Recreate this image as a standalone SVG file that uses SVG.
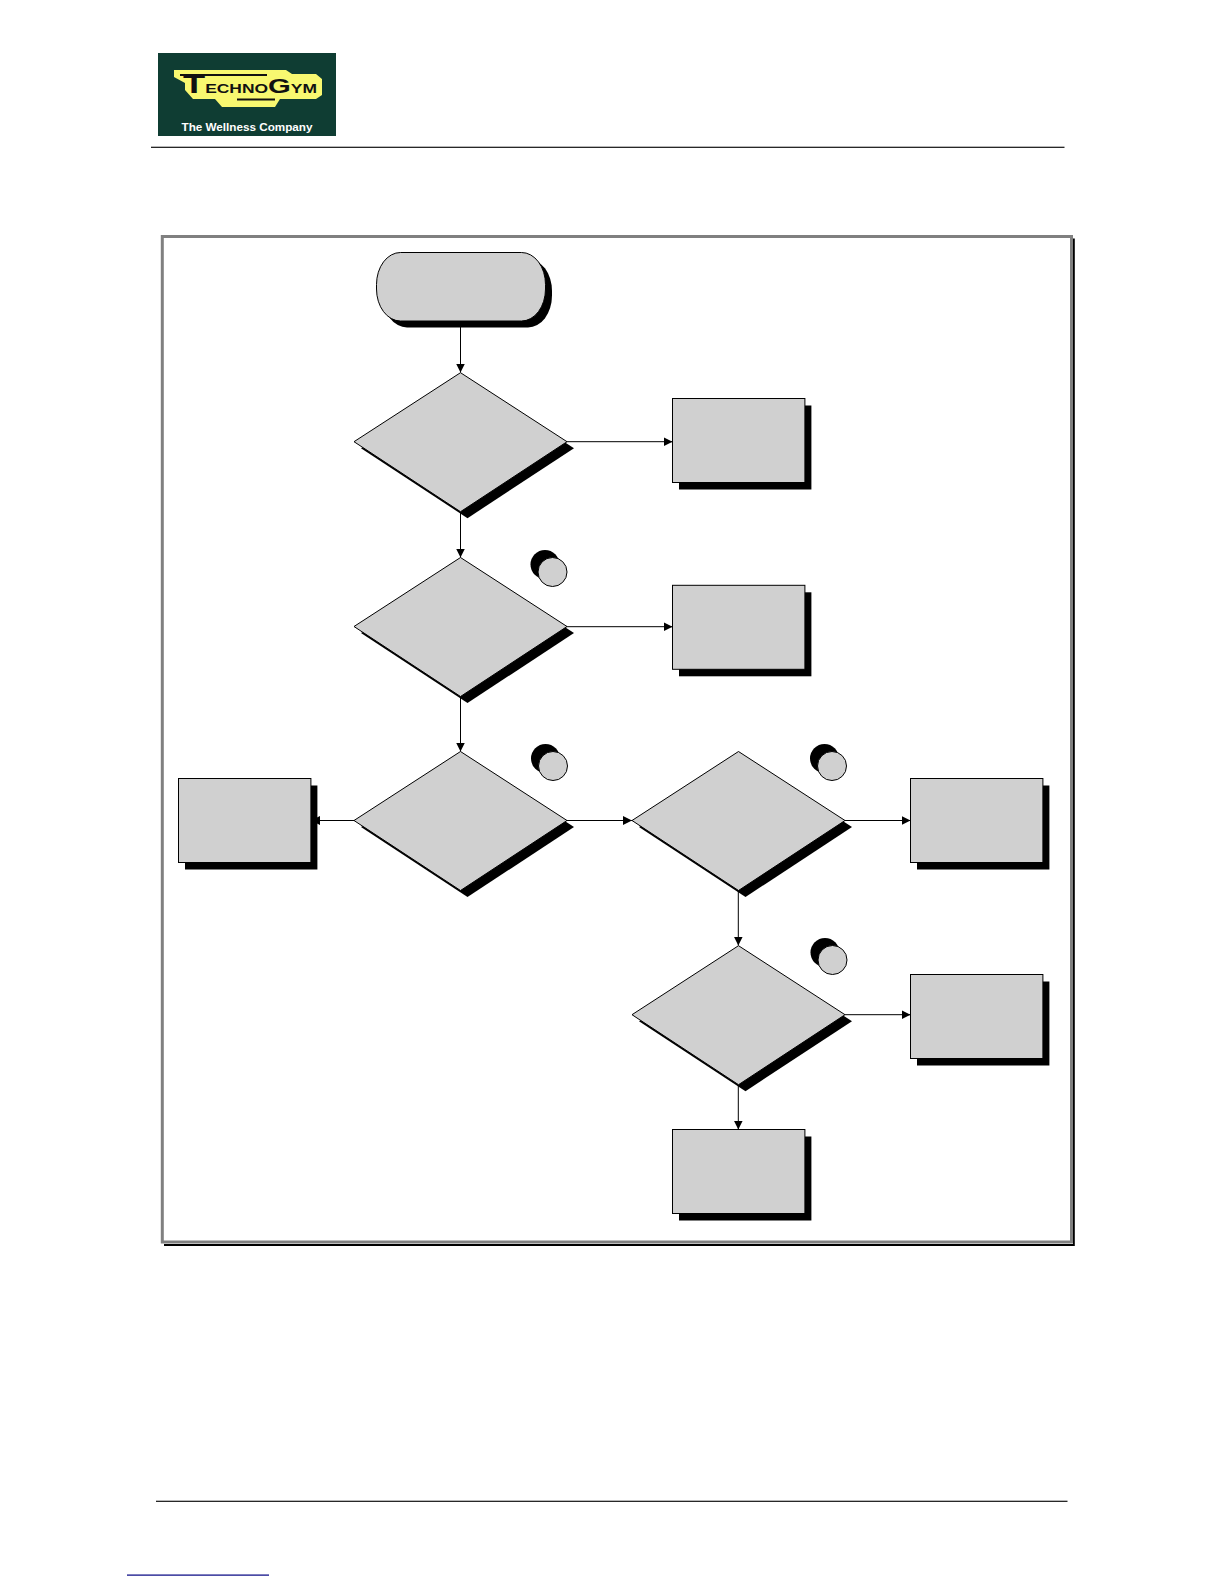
<svg xmlns="http://www.w3.org/2000/svg" width="1224" height="1584" viewBox="0 0 1224 1584">
<style>
.f{fill:#d0d0d0;stroke:#000;stroke-width:1}
.s{fill:#000;stroke:none}
.c{fill:none;stroke:#000;stroke-width:1;marker-end:url(#a)}
.lg{font-family:"Liberation Sans",Arial,sans-serif;font-weight:bold}
</style>
<defs>
<marker id="a" markerUnits="userSpaceOnUse" markerWidth="9" markerHeight="9" viewBox="0 0 9 9" refX="9" refY="4.5" orient="auto"><path d="M0 0L9 4.5L0 9Z" fill="#000"/></marker>
<rect id="bx" width="132.4" height="84" class="f"/>
<rect id="bs" x="6.500" y="7" width="132.400" height="84" class="s"/>
<path id="ds" d="M7 75.500L113.500 6.500L220 75.500L113.500 145.500Z" class="s"/>
<path id="df" d="M0 69L106.500 0L213 69L106.500 139Z" class="f"/>
<circle id="cs" cx="-7.500" cy="-7.500" r="14.500" class="s"/>
<circle id="cf" r="14.500" class="f"/>
</defs>
<rect width="1224" height="1584" fill="#fff"/>

<g id="logo">
<rect x="158" y="53" width="178" height="83" fill="#0f3d33"/>
<path d="M174 70H286L292 74H316L322 79V95L316 99H280L275 107H222L215 99H193L185 90V83L174 77Z" fill="#f8f870"/>
<path d="M180 75H267M237 99.500H275" stroke="#111" stroke-width="2" fill="none"/>
<text class="lg" x="183" y="93" font-size="26" fill="#111" textLength="134" lengthAdjust="spacingAndGlyphs">T<tspan font-size="12.500">ECHNO</tspan><tspan font-size="21">G</tspan><tspan font-size="12.500">YM</tspan></text>
<text class="lg" x="181.500" y="130.500" font-size="10" fill="#fff" textLength="131" lengthAdjust="spacingAndGlyphs">The Wellness Company</text>
</g>
<rect id="header-rule" x="151" y="146.700" width="913.500" height="1.200" fill="#111"/>
<rect id="footer-rule" x="156" y="1500.700" width="911.500" height="1.200" fill="#111"/>
<rect id="footer-link" x="127" y="1574.500" width="142" height="1.200" fill="#000080"/>

<g id="frame">
<path d="M1073 238.500H1074.800V1246H164V1244H1073Z" fill="#000"/>
<rect x="162.300" y="236.500" width="909.200" height="1005.500" fill="#fff" stroke="#808080" stroke-width="3"/>
</g>

<g id="connectors">
<path class="c" d="M460.500 322V372.500"/>
<path class="c" d="M566 441.700H672.500"/>
<path class="c" d="M460.500 510V557.500"/>
<path class="c" d="M566 626.700H672.500"/>
<path class="c" d="M460.500 695V751.500"/>
<path class="c" d="M354.500 820.500H311"/>
<path class="c" d="M566 820.500H632"/>
<path class="c" d="M845 820.500H910.500"/>
<path class="c" d="M738.300 889V945.500"/>
<path class="c" d="M845 1014.700H910.500"/>
<path class="c" d="M738.300 1083V1129.500"/>
</g>

<g id="start">
<rect x="383" y="259" width="169" height="68.500" rx="24" ry="32" class="s"/>
<rect x="376.500" y="252.500" width="169" height="68.500" rx="24" ry="32" class="f"/>
</g>
<g id="decision-1" transform="translate(354,372.700)"><use href="#ds"/><use href="#df"/></g>
<g id="result-1" transform="translate(672.500,398.500)"><use href="#bs"/><use href="#bx"/></g>
<g id="decision-2" transform="translate(354,557.500)"><use href="#ds"/><use href="#df"/></g>
<g id="badge-2" transform="translate(552.500,572)"><use href="#cs"/><use href="#cf"/></g>
<g id="result-2" transform="translate(672.500,585.300)"><use href="#bs"/><use href="#bx"/></g>
<g id="decision-3" transform="translate(354,751.500)"><use href="#ds"/><use href="#df"/></g>
<g id="badge-3" transform="translate(553,766)"><use href="#cs"/><use href="#cf"/></g>
<g id="result-3" transform="translate(178.500,778.500)"><use href="#bs"/><use href="#bx"/></g>
<g id="decision-4" transform="translate(632,751.500)"><use href="#ds"/><use href="#df"/></g>
<g id="badge-4" transform="translate(832,766)"><use href="#cs"/><use href="#cf"/></g>
<g id="result-4" transform="translate(910.500,778.500)"><use href="#bs"/><use href="#bx"/></g>
<g id="decision-5" transform="translate(632,945.700)"><use href="#ds"/><use href="#df"/></g>
<g id="badge-5" transform="translate(832.500,960)"><use href="#cs"/><use href="#cf"/></g>
<g id="result-5" transform="translate(910.500,974.500)"><use href="#bs"/><use href="#bx"/></g>
<g id="result-6" transform="translate(672.500,1129.500)"><use href="#bs"/><use href="#bx"/></g>
</svg>
